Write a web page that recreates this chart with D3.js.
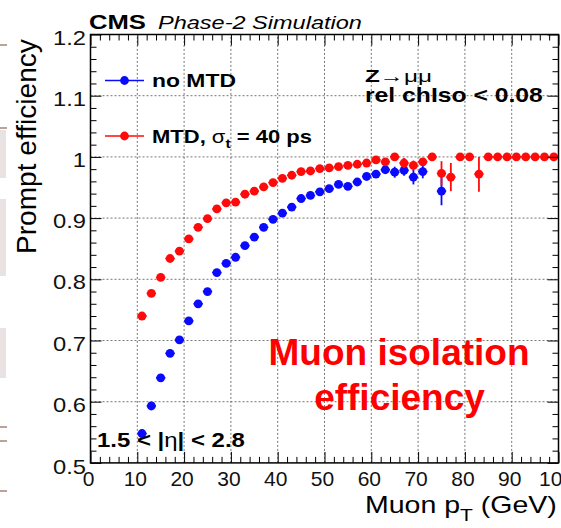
<!DOCTYPE html>
<html>
<head>
<meta charset="utf-8">
<script src="https://cdn.jsdelivr.net/npm/d3@7"></script>
<style>
  html, body { margin: 0; padding: 0; background: #fff; }
  svg { display: block; }
  text { font-family: "Liberation Sans", Arial, Helvetica, sans-serif; }
</style>
</head>
<body>
<svg id="chart" width="561" height="528"></svg>
<script>
// ---- data: prompt muon isolation efficiency vs muon pT (2 GeV bins) ----
const ptNoMTD  = [11, 13, 15, 17, 19, 21, 23, 25, 27, 29, 31, 33, 35, 37, 39, 41, 43, 45, 47, 49,
                  51, 53, 55, 57, 59, 61, 63, 65, 67, 69, 71, 75];
const effNoMTD = [0.548, 0.593, 0.639, 0.679, 0.701, 0.732, 0.760, 0.780, 0.811, 0.826, 0.836, 0.855,
                  0.869, 0.885, 0.898, 0.908, 0.918, 0.932, 0.937, 0.943, 0.948, 0.955, 0.952, 0.959,
                  0.968, 0.972, 0.979, 0.975, 0.978, 0.967, 0.976, 0.944];
const errNoMTD = [0.004, 0.004, 0.004, 0.004, 0.004, 0.004, 0.004, 0.004, 0.004, 0.004, 0.004, 0.004,
                  0.004, 0.004, 0.004, 0.004, 0.004, 0.004, 0.004, 0.004, 0.004, 0.004, 0.004, 0.004,
                  0.004, 0.004, 0.005, 0.009, 0.009, 0.012, 0.011, 0.023];

const ptMTD  = [11, 13, 15, 17, 19, 21, 23, 25, 27, 29, 31, 33, 35, 37, 39, 41, 43, 45, 47, 49,
                51, 53, 55, 57, 59, 61, 63, 65, 67, 69, 71, 73, 75, 77, 79, 81, 83, 85, 87, 89,
                91, 93, 95, 97, 99];
const effMTD = [0.740, 0.777, 0.803, 0.834, 0.846, 0.866, 0.885, 0.899, 0.915, 0.925, 0.926, 0.939,
                0.944, 0.951, 0.958, 0.965, 0.970, 0.976, 0.977, 0.981, 0.982, 0.984, 0.986, 0.988,
                0.990, 0.995, 0.992, 1.000, 0.990, 0.986, 0.992, 1.000, 0.973, 0.967, 1.000, 1.000,
                0.972, 1.000, 1.000, 1.000, 1.000, 1.000, 1.000, 1.000, 1.000];
const errMTD = [0.003, 0.003, 0.003, 0.003, 0.003, 0.003, 0.003, 0.003, 0.003, 0.003, 0.003, 0.003,
                0.003, 0.003, 0.003, 0.003, 0.003, 0.003, 0.003, 0.003, 0.003, 0.003, 0.003, 0.003,
                0.003, 0.004, 0.004, 0.000, 0.008, 0.008, 0.006, 0.000, 0.020, 0.023, 0.000, 0.000,
                0.029, 0.000, 0.000, 0.000, 0.000, 0.000, 0.000, 0.000, 0.000];
const binHalfWidth = 1;

const xTicks = [0, 10, 20, 30, 40, 50, 60, 70, 80, 90, 100];
const xTickLabels = ["0", "10", "20", "30", "40", "50", "60", "70", "80", "90", "100"];
const yTicks = [0.5, 0.6, 0.7, 0.8, 0.9, 1.0, 1.1, 1.2];
const yTickLabels = ["0.5", "0.6", "0.7", "0.8", "0.9", "1", "1.1", "1.2"];
const xGrid = [10, 20, 30, 40, 50, 60, 70, 80, 90];
const yGrid = [0.6, 0.7, 0.8, 0.9, 1.0, 1.1];

const seriesNames = ["no MTD", "MTD"];
const BLUE = "#0a0aff", RED = "#ff0a0a";

// ---- scales ----
const X0 = 90.5, X1 = 558.5, Y0 = 462.9, Y1 = 34.5;
const x = d3.scaleLinear().domain([0, 100]).range([X0, X1]);
const y = d3.scaleLinear().domain([0.5, 1.2]).range([Y0, Y1]);

const svg = d3.select("#chart");
svg.append("rect").attr("width", 561).attr("height", 528).attr("fill", "#fff");

// slide-edge remnants at the far left
const edge = svg.append("g");
[[130, 48], [199, 77], [328, 50]].forEach(([top, h]) =>
  edge.append("rect").attr("x", 0).attr("y", top).attr("width", 6).attr("height", h).attr("fill", "#e8e2e2"));
[45, 128, 427, 441, 491].forEach(v =>
  edge.append("line").attr("x1", 0).attr("x2", 7).attr("y1", v).attr("y2", v)
      .attr("stroke", "#9c7c72").attr("stroke-width", 1.4));

// ---- grid ----
const grid = svg.append("g").attr("stroke", "#666").attr("stroke-width", 0.9).attr("stroke-dasharray", "2,2");
grid.selectAll(".gx").data(xGrid).join("line")
  .attr("x1", d => x(d)).attr("x2", d => x(d)).attr("y1", Y0).attr("y2", Y1);
grid.selectAll(".gy").data(yGrid).join("line")
  .attr("x1", X0).attr("x2", X1).attr("y1", d => y(d)).attr("y2", d => y(d));

// ---- series ----
function drawSeries(pts, eff, err, color) {
  const rows = pts.map((p, i) => ({ p, e: eff[i], s: err[i] }));
  const g = svg.append("g");
  g.selectAll(".ex").data(rows).join("line")
    .attr("x1", d => x(d.p - binHalfWidth)).attr("x2", d => x(d.p + binHalfWidth))
    .attr("y1", d => y(d.e)).attr("y2", d => y(d.e))
    .attr("stroke", color).attr("stroke-width", 1.6);
  g.selectAll(".ey").data(rows.filter(d => d.s > 0)).join("line")
    .attr("x1", d => x(d.p)).attr("x2", d => x(d.p))
    .attr("y1", d => y(d.e - d.s)).attr("y2", d => y(Math.min(d.e + d.s, 1)))
    .attr("stroke", color).attr("stroke-width", 1.8);
  g.selectAll("circle").data(rows).join("circle")
    .attr("cx", d => x(d.p)).attr("cy", d => y(d.e)).attr("r", 4.4)
    .attr("fill", color);
}
drawSeries(ptNoMTD, effNoMTD, errNoMTD, BLUE);
drawSeries(ptMTD, effMTD, errMTD, RED);

// ---- axes (ticks inside the frame) ----
const minorX = d3.range(0, 100.01, 2).filter(v => v % 10 !== 0);
const minorY = d3.range(0, 36).map(i => 0.5 + i * 0.02).filter(v => Math.abs(v * 10 - Math.round(v * 10)) > 1e-6);

function axisGroup(axis, tx, ty) {
  const g = svg.append("g").attr("transform", `translate(${tx},${ty})`).call(axis);
  g.select(".domain").remove();
  g.selectAll("line").attr("stroke", "#000").attr("stroke-width", 1);
  return g;
}
const none = () => "";
// bottom
const gb = axisGroup(d3.axisBottom(x).tickValues(xTicks).tickSize(-11).tickFormat((d, i) => xTickLabels[i]), 0, Y0);
axisGroup(d3.axisBottom(x).tickValues(minorX).tickSize(-6).tickFormat(none), 0, Y0);
// top
axisGroup(d3.axisTop(x).tickValues(xTicks).tickSize(-11).tickFormat(none), 0, Y1);
axisGroup(d3.axisTop(x).tickValues(minorX).tickSize(-6).tickFormat(none), 0, Y1);
// left
const gl = axisGroup(d3.axisLeft(y).tickValues(yTicks).tickSize(-11).tickFormat((d, i) => yTickLabels[i]), X0, 0);
axisGroup(d3.axisLeft(y).tickValues(minorY).tickSize(-6).tickFormat(none), X0, 0);
// right
axisGroup(d3.axisRight(y).tickValues(yTicks).tickSize(-11).tickFormat(none), X1, 0);
axisGroup(d3.axisRight(y).tickValues(minorY).tickSize(-6).tickFormat(none), X1, 0);

gb.selectAll("text")
  .attr("font-size", 21).attr("fill", "#111").attr("font-family", "Liberation Sans, Arial, sans-serif")
  .attr("y", 23.2).attr("dy", 0).attr("x", -2.5);
gl.selectAll("text")
  .attr("font-size", 21).attr("fill", "#111").attr("font-family", "Liberation Sans, Arial, sans-serif")
  .attr("x", 0).attr("dy", 0).attr("text-anchor", "end")
  .attr("transform", d => `translate(-4.5,${d === 0.5 ? 10.5 : 9.5}) scale(1.13,1)`);

// frame
svg.append("rect").attr("x", X0).attr("y", Y1).attr("width", X1 - X0).attr("height", Y0 - Y1)
  .attr("fill", "none").attr("stroke", "#000").attr("stroke-width", 1.5);

// ---- text helper: lays out a (possibly multi-part) label and fits it to a width ----
function label(o) {
  const g = svg.append("g");
  const t = g.append("text")
    .attr("font-size", o.size)
    .attr("font-weight", o.weight || "normal")
    .attr("font-style", o.style || "normal")
    .attr("fill", o.fill || "#000");
  (o.parts || [{ t: o.text }]).forEach(p => {
    const s = t.append("tspan").text(p.t);
    if (p.weight) s.attr("font-weight", p.weight);
    if (p.size) s.attr("font-size", p.size);
    if (p.dy) s.attr("dy", p.dy);
  });
  const bw = t.node().getComputedTextLength();
  const k = o.width ? o.width / bw : 1;
  const w = bw * k;
  const off = o.anchor === "end" ? -w : o.anchor === "middle" ? -w / 2 : 0;
  g.attr("transform", `translate(${o.x},${o.y})` + (o.rotate ? ` rotate(${o.rotate})` : "") +
    ` translate(${off},0) scale(${k},1)`);
  return g;
}

// header
label({ text: "CMS", x: 89, y: 28.5, size: 19.5, weight: "bold", width: 57 });
label({ text: "Phase-2 Simulation", x: 158, y: 28.5, size: 17.5, style: "italic", width: 204 });

// axis titles
label({ text: "Prompt efficiency", x: 36, y: 254, rotate: -90, size: 28, width: 215 });
label({ parts: [{ t: "Muon p" }, { t: "T", size: 17, dy: 8 }, { t: " (GeV)", dy: -8 }],
        x: 557, y: 513, anchor: "end", size: 23, width: 192 });

// legend
const legend = [
  { name: seriesNames[0], color: BLUE, y: 80.5,
    parts: [{ t: "no MTD" }], width: 84 },
  { name: seriesNames[1], color: RED, y: 136,
    parts: [{ t: "MTD, " }, { t: "σ", weight: "normal" }, { t: "t", size: 13, dy: 5 }, { t: " = 40 ps", dy: -5 }], width: 160 }
];
legend.forEach(l => {
  svg.append("line").attr("x1", 105).attr("x2", 144).attr("y1", l.y).attr("y2", l.y)
    .attr("stroke", l.color).attr("stroke-width", 1.6);
  svg.append("circle").attr("cx", 124.5).attr("cy", l.y).attr("r", 4.4).attr("fill", l.color);
  label({ parts: l.parts, x: 152, y: l.y + 6.6, size: 18.5, weight: "bold", width: l.width });
});

// selection labels
label({ parts: [{ t: "Z" }, { t: "→μμ", weight: "normal" }], x: 365, y: 81.7, size: 17, weight: "bold", width: 67 });
label({ text: "rel chIso < 0.08", x: 365, y: 101.7, size: 19.5, weight: "bold", width: 178 });
label({ parts: [{ t: "1.5 < |" }, { t: "η", weight: "normal" }, { t: "| < 2.8" }],
        x: 97, y: 446.7, size: 21, weight: "bold", width: 148 });

// plot caption
label({ text: "Muon isolation", x: 399, y: 365, anchor: "middle", size: 37, weight: "bold", fill: "#ff0000" });
label({ text: "efficiency", x: 399.5, y: 410, anchor: "middle", size: 37, weight: "bold", fill: "#ff0000" });
</script>
</body>
</html>
